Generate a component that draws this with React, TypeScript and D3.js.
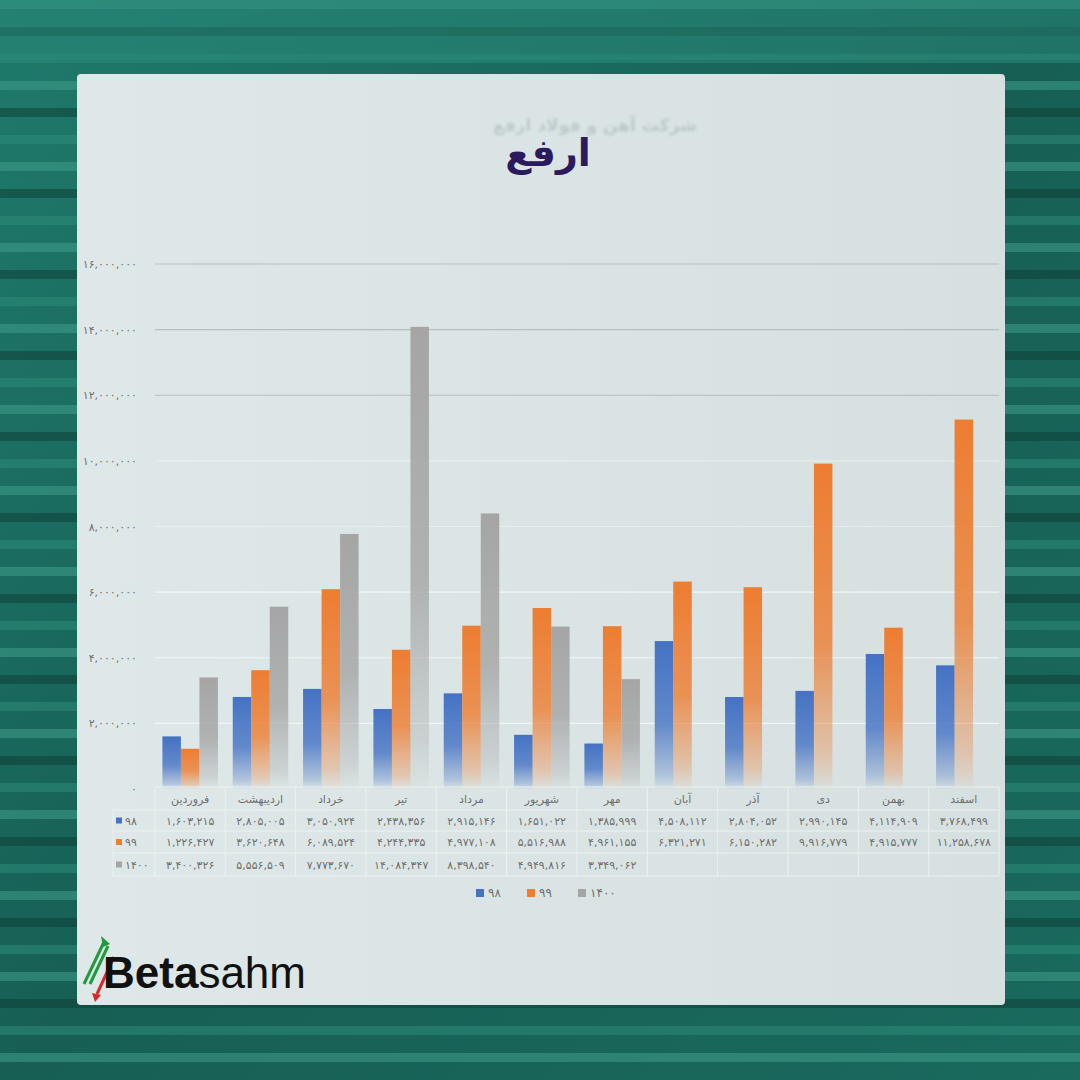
import React from "react";
import * as d3 from "d3";

const months = ["فروردین", "اردیبهشت", "خرداد", "تیر", "مرداد", "شهریور", "مهر", "آبان", "آذر", "دی", "بهمن", "اسفند"];
const seriesNames = ["98", "99", "1400"];
const values98 = [1603215, 2805005, 3050924, 2438356, 2915146, 1651022, 1385999, 4508112, 2804052, 2990145, 4114909, 3768499];
const values99 = [1226427, 3620648, 6089524, 4244335, 4977108, 5516988, 4961155, 6321271, 6150282, 9916779, 4915777, 11258678];
const values1400 = [3400326, 5556509, 7773670, 14084347, 8398540, 4949816, 3349062];
const yTicks = [0, 2000000, 4000000, 6000000, 8000000, 10000000, 12000000, 14000000, 16000000];
const seriesColors = ["#4472c4", "#ed7d31", "#a5a5a5"];
const title = "ارفع";
const subtitle = "شرکت آهن و فولاد ارفع";

const faDigits = "۰۱۲۳۴۵۶۷۸۹";
const toFa = (s: string) => s.replace(/\d/g, (d) => faDigits[+d]);
const fmt = (v: number) => toFa(d3.format(",")(v));

export default function App() {
  const W = 1080, H = 1080;
  const plotLeft = 155, plotRight = 999;
  const y = d3.scaleLinear().domain([0, 16000000]).range([789, 264]);
  const x0 = d3.scaleBand<string>().domain(months).range([plotLeft, plotRight]).padding(0);
  const x1 = d3.scaleBand<string>().domain(seriesNames).range([0, x0.bandwidth()]).paddingInner(0).paddingOuter(0.4);
  const allSeries = [values98, values99, values1400];
  const font = "'DejaVu Sans', 'Noto Sans', sans-serif";

  const rowTops = [787, 810, 831, 853, 876];
  const bgStripes = d3.range(0, 40).map((i) => i);

  return (
    <svg width={W} height={H} style={{ position: "absolute", left: 0, top: 0 }} fontFamily={font}>
      <defs>
        {seriesColors.map((c, i) => (
          <linearGradient key={i} id={`g${i}`} x1="0" y1="0" x2="0" y2="1">
            <stop offset="0" stopColor={c} stopOpacity={1} />
            <stop offset="0.55" stopColor={c} stopOpacity={0.8} />
            <stop offset="0.9" stopColor={c} stopOpacity={0.3} />
            <stop offset="1" stopColor={c} stopOpacity={0.03} />
          </linearGradient>
        ))}
        <linearGradient id="bg" x1="0" y1="0" x2="1" y2="1">
          <stop offset="0" stopColor="#1f7a6c" />
          <stop offset="0.5" stopColor="#175f55" />
          <stop offset="1" stopColor="#1a6a5e" />
        </linearGradient>
        <linearGradient id="card" x1="0" y1="0" x2="1" y2="0">
          <stop offset="0" stopColor="#dfe8e8" />
          <stop offset="1" stopColor="#d6e0e0" />
        </linearGradient>
        <filter id="blur"><feGaussianBlur stdDeviation="1.6" /></filter>
      </defs>

      {/* background */}
      <rect x={0} y={0} width={W} height={H} fill="url(#bg)" />
      {bgStripes.map((i) => (
        <rect key={i} x={0} y={i * 27} width={W} height={9} fill={i % 3 === 0 ? "#3f9c8a" : i % 3 === 1 ? "#0f3f37" : "#2c8a79"} opacity={0.55} />
      ))}
      <rect x={0} y={0} width={W} height={60} fill="#2a8a7a" opacity={0.5} />

      {/* card */}
      <rect x={77} y={74} width={928} height={931} rx={4} fill="url(#card)" />

      {/* titles */}
      <text x={595} y={131} textAnchor="middle" fontSize={17} fontWeight="bold" fill="#9aa6a8" opacity={0.45} filter="url(#blur)">{subtitle}</text>
      <text x={548} y={166} textAnchor="middle" fontSize={38} fontWeight="bold" fill="#2b1a5e">{title}</text>

      {/* grid + y axis */}
      {yTicks.map((t) => (
        <g key={t}>
          {t > 0 && (
            <line x1={plotLeft} x2={plotRight} y1={y(t)} y2={y(t)} stroke={t >= 12000000 ? "#b9bdbd" : "#f4f7f7"} strokeWidth={1.2} opacity={t >= 12000000 ? 1 : t >= 8000000 ? 0.5 : 0.9} />
          )}
          <text x={137} y={y(t) + 4} textAnchor="end" fontSize={11} fill="#6e6e6e">{toFa(d3.format(",")(t))}</text>
        </g>
      ))}

      {/* bars */}
      {allSeries.map((vals, si) =>
        vals.map((v, mi) => (
          <rect
            key={`${si}-${mi}`}
            x={(x0(months[mi]) as number) + (x1(seriesNames[si]) as number)}
            y={y(v)}
            width={x1.bandwidth()}
            height={y(0) - y(v)}
            fill={`url(#g${si})`}
          />
        ))
      )}

      {/* data table */}
      <g stroke="#eef3f3" strokeWidth={1} opacity={0.9}>
        <line x1={plotLeft} x2={plotRight} y1={rowTops[0]} y2={rowTops[0]} />
        {rowTops.slice(1).map((r) => (
          <line key={r} x1={113} x2={plotRight} y1={r} y2={r} />
        ))}
        <line x1={113} x2={113} y1={rowTops[1]} y2={rowTops[4]} />
        {months.map((m) => (
          <line key={m} x1={x0(m) as number} x2={x0(m) as number} y1={rowTops[0]} y2={rowTops[4]} />
        ))}
        <line x1={plotRight} x2={plotRight} y1={rowTops[0]} y2={rowTops[4]} />
      </g>
      {months.map((m) => (
        <text key={m} x={(x0(m) as number) + x0.bandwidth() / 2} y={803} textAnchor="middle" fontSize={11} fill="#6e6e6e">{m}</text>
      ))}
      {allSeries.map((vals, si) => (
        <g key={si}>
          <rect x={116} y={(rowTops[si + 1] + rowTops[si + 2]) / 2 - 3} width={6} height={6} fill={seriesColors[si]} />
          <text x={125} y={(rowTops[si + 1] + rowTops[si + 2]) / 2 + 4} fontSize={11} fill="#6e6e6e">{toFa(seriesNames[si])}</text>
          {vals.map((v, mi) => (
            <text key={mi} x={(x0(months[mi]) as number) + x0.bandwidth() / 2} y={(rowTops[si + 1] + rowTops[si + 2]) / 2 + 4} textAnchor="middle" fontSize={11} fill="#6e6e6e">{fmt(v)}</text>
          ))}
        </g>
      ))}

      {/* legend */}
      {seriesNames.map((s, i) => (
        <g key={s} transform={`translate(${476 + i * 51},0)`}>
          <rect x={0} y={889} width={8} height={8} fill={seriesColors[i]} />
          <text x={12} y={897} fontSize={12} fill="#6e6e6e">{toFa(s)}</text>
        </g>
      ))}

      {/* logo */}
      <g>
        <line x1={84} x2={104} y1={984} y2={942} stroke="#1f9a3e" strokeWidth={3} />
        <line x1={90} x2={108} y1={984} y2={946} stroke="#1f9a3e" strokeWidth={3} />
        <path d="M101,936 L110,944 L103,947 Z" fill="#1f9a3e" />
        <line x1={114} x2={97} y1={957} y2={994} stroke="#d62a2a" strokeWidth={3} />
        <path d="M92,993 L101,995 L95,1002 Z" fill="#d62a2a" />
        <text x={103} y={988} fontSize={44} fontFamily="'Liberation Sans', Arial, sans-serif" fill="#111">
          <tspan fontWeight="bold">Beta</tspan>
          <tspan>sahm</tspan>
        </text>
      </g>
    </svg>
  );
}
